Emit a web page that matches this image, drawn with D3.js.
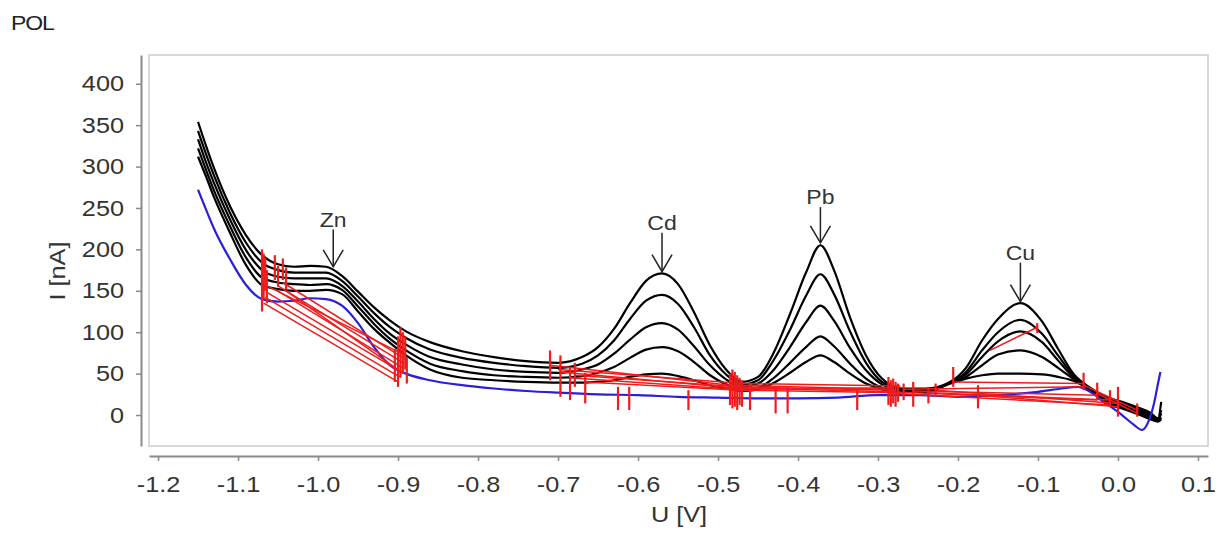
<!DOCTYPE html>
<html>
<head>
<meta charset="utf-8">
<script src="https://cdn.jsdelivr.net/npm/d3@7"></script>
<style>
  html, body { margin: 0; padding: 0; background: #fff; }
  svg { display: block; font-family: "Liberation Sans", Arial, sans-serif; }
</style>
</head>
<body>
<svg id="chart" width="1222" height="538"></svg>
<script>
// ---------------- data ----------------
const xTicks = [-1.2, -1.1, -1.0, -0.9, -0.8, -0.7, -0.6, -0.5, -0.4, -0.3, -0.2, -0.1, 0.0, 0.1];
const xTickLabels = ["-1.2", "-1.1", "-1.0", "-0.9", "-0.8", "-0.7", "-0.6", "-0.5", "-0.4", "-0.3", "-0.2", "-0.1", "0.0", "0.1"];
const yTicks = [0, 50, 100, 150, 200, 250, 300, 350, 400];

// potential grid of the measured scans [V]
const voltages = [-1.150,-1.140,-1.130,-1.110,-1.090,-1.070,-1.050,-1.030,-1.010,-0.990,
  -0.970,-0.950,-0.930,-0.910,-0.890,-0.860,-0.820,-0.780,-0.740,-0.700,
  -0.670,-0.650,-0.630,-0.610,-0.590,-0.570,-0.550,-0.530,-0.510,-0.490,
  -0.470,-0.450,-0.430,-0.410,-0.390,-0.372,-0.355,-0.335,-0.315,-0.295,
  -0.270,-0.240,-0.210,-0.190,-0.170,-0.150,-0.122,-0.095,-0.075,-0.055,
  -0.035,-0.015,0.005,0.025,0.040,0.050,0.054];

// currents [nA] of the black scans (standard additions), highest first
const scan5 = [354,325,298,252,217,193,182,179,180,179,168,149,130,114,101,88,77,70,65,63,
  70,82,104,135,162,171,158,124,84,55,40,46,76,122,172,205,175,118,72,44,
  32,32,40,57,90,116,135,113,80,49,33,22,16,9,3,-4,16];
const scan4 = [343,315,289,244,208,184,175,172,172,172,162,143,123,106,93,79,69,63,59,57,
  62,72,90,116,138,145,134,106,72,49,37,42,67,103,144,170,146,101,63,40,
  31,31,39,52,78,100,115,98,72,47,32,20,14,7,1,-5,6];
const scan3 = [333,305,280,236,199,175,167,165,165,165,156,137,116,98,85,70,61,55,52,51,
  55,61,74,91,106,111,103,83,60,43,34,38,55,82,112,132,114,81,54,37,
  30,30,39,49,70,89,101,88,66,45,31,18,12,5,-1,-6,2];
const scan2 = [322,296,271,228,190,166,160,158,157,158,151,131,110,92,78,62,53,48,46,45,
  47,51,58,69,79,82,77,64,48,37,31,33,45,63,82,95,83,62,44,33,
  29,29,38,46,60,73,78,70,57,43,30,16,10,3,-3,-7,-3];
const scan1 = [312,288,263,220,181,157,152,150,150,151,146,125,104,87,72,55,45,42,40,39,
  39,40,42,46,49,50,47,42,36,32,29,31,39,51,64,72,64,50,38,31,
  28,28,38,44,48,50,50,49,46,41,30,14,8,1,-5,-8,-5];

// blank (blue) scan
const blankV = [-1.150,-1.140,-1.130,-1.110,-1.090,-1.070,-1.050,-1.030,-1.010,-0.990,-0.970,-0.950,
  -0.930,-0.910,-0.890,-0.860,-0.820,-0.780,-0.740,-0.700,-0.650,-0.600,-0.550,-0.500,-0.450,-0.400,
  -0.350,-0.300,-0.250,-0.200,-0.150,-0.100,-0.070,-0.050,-0.035,-0.015,0.005,0.020,0.030,0.038,
  0.045,0.050,0.053];
const blankI = [272,248,225,188,157,140,137,138,141,140,132,111,
  82,60,50,42,36,32,29,27,25,24,22,21,20,20,
  21,24,24,22,24,28,32,34,28,14,0,-12,-18,-8,
  14,38,52];

// red evaluation marks: potential, lower and upper current
const markV  = [-1.070,-1.068,-1.066,-1.064,-1.054,-1.050,-1.044,-1.040,-0.904,-0.900,-0.897,-0.894,-0.891,-0.889,
  -0.710,-0.697,-0.685,-0.679,-0.666,-0.625,-0.611,-0.537,-0.485,-0.482,-0.479,-0.476,-0.473,-0.470,-0.460,
  -0.428,-0.413,-0.326,-0.287,-0.284,-0.281,-0.278,-0.275,-0.268,-0.256,-0.237,-0.228,-0.206,-0.175,-0.101,
  -0.043,-0.026,-0.010,0.000,0.024];
const markLo = [125,140,150,135,163,155,163,152,40,34,45,50,55,38,
  42,22,18,34,14,6,6,6,12,8,10,6,12,10,6,
  2,2,6,12,10,14,10,16,18,10,14,22,34,8,99,
  30,18,10,-2,-2];
const markHi = [200,195,190,175,193,180,189,178,80,95,106,100,95,70,
  78,72,58,63,51,34,34,30,50,55,52,48,45,42,39,
  34,34,30,46,42,44,40,38,38,40,34,38,58,36,111,
  51,39,30,34,14];

// red peak baselines: start potential/current, end potential/current
const baseV1 = [-1.068,-1.066,-1.064,-1.054,-1.050,-1.044,-1.040,-1.062,
  -0.710,-0.697,-0.685,-0.679,-0.666,-0.700,
  -0.485,-0.482,-0.479,-0.476,-0.473,-0.470,
  -0.206,-0.268,-0.256,-0.237,-0.228,-0.287,-0.278,-0.175,-0.160,-0.043,-0.026];
const baseI1 = [135,142,148,152,156,160,150,155,
  60,52,45,48,40,55,
  36,33,31,34,30,38,
  40,31,29,27,30,28,26,24,78,36,26];
const baseV2 = [-0.900,-0.898,-0.896,-0.894,-0.892,-0.890,-0.893,-0.891,
  -0.485,-0.482,-0.479,-0.476,-0.473,-0.470,
  -0.287,-0.284,-0.281,-0.278,-0.275,-0.272,
  -0.043,-0.043,-0.026,-0.010,0.000,-0.026,-0.010,0.000,-0.101,0.024,0.024];
const baseI2 = [40,46,52,57,62,67,50,72,
  36,33,31,34,30,38,
  31,28,33,30,27,35,
  38,34,24,18,14,18,12,10,106,6,2];

// peak annotations
const peakNames = ["Zn", "Cd", "Pb", "Cu"];
const peakV     = [-0.981, -0.570, -0.372, -0.122];
const peakTipI  = [179, 173, 208, 137];
const peakTailI = [224, 220, 251, 184];

// ---------------- drawing ----------------
const svg = d3.select("#chart");
const frame = {left: 149, top: 55, right: 1208, bottom: 446};
const x = d3.scaleLinear().domain([-1.2113, 0.1125]).range([frame.left, frame.right]);
const y = d3.scaleLinear().domain([-37.4, 434.7]).range([frame.bottom, frame.top]);
const SX = 1.15; // horizontal stretch of the original lettering
const textColor = "#333";

svg.append("defs").append("clipPath").attr("id", "clip")
  .append("rect").attr("x", frame.left).attr("y", frame.top)
  .attr("width", frame.right - frame.left).attr("height", frame.bottom - frame.top);

// plot frame
svg.append("rect")
  .attr("x", frame.left).attr("y", frame.top)
  .attr("width", frame.right - frame.left).attr("height", frame.bottom - frame.top)
  .attr("fill", "none").attr("stroke", "#cdcdcd").attr("stroke-width", 1.5);

// y axis (offset to the left)
const yAxis = svg.append("g").attr("transform", "translate(141,0)")
  .call(d3.axisLeft(y).tickValues(yTicks).tickSize(5).tickSizeOuter(0).tickPadding(12).tickFormat(d3.format("d")));
// x axis (offset below)
const xAxis = svg.append("g").attr("transform", "translate(0,456)")
  .call(d3.axisBottom(x).tickValues(xTicks).tickSize(5).tickSizeOuter(0).tickPadding(15)
    .tickFormat((d, i) => xTickLabels[i]));

[yAxis, xAxis].forEach(g => {
  g.select(".domain").attr("stroke", "#8a8a8a").attr("stroke-width", 2);
  g.selectAll(".tick line").attr("stroke", "#8a8a8a").attr("stroke-width", 1.5);
  g.selectAll(".tick text").attr("fill", textColor)
    .style("font-size", "22px").style("font-family", "'Liberation Sans', Arial, sans-serif");
});
yAxis.selectAll(".tick text").each(function() {
  const t = d3.select(this);
  t.attr("x", (+t.attr("x")) / SX).attr("transform", `scale(${SX},1)`);
});
xAxis.selectAll(".tick text").attr("transform", `scale(${SX},1)`);

function stretchedText(txt, px, py, size, anchor, rotate) {
  const g = svg.append("g").attr("transform", `translate(${px},${py})` + (rotate ? ` rotate(${rotate})` : "") + ` scale(${SX},1)`);
  g.append("text").text(txt).attr("text-anchor", anchor || "middle")
    .attr("fill", textColor).style("font-size", size + "px");
  return g;
}
stretchedText("POL", 11, 30, 20, "start").select("text").attr("letter-spacing", -1).attr("fill", "#222");
stretchedText("U [V]", 679, 522, 22, "middle");
stretchedText("I [nA]", 65, 271, 22, "middle", -90);

const plot = svg.append("g").attr("clip-path", "url(#clip)");

const line = d3.line().x(d => x(d[0])).y(d => y(d[1])).curve(d3.curveMonotoneX);

// black scans
[scan1, scan2, scan3, scan4, scan5].forEach(s => {
  plot.append("path").datum(voltages.map((v, i) => [v, s[i]]))
    .attr("d", line).attr("fill", "none").attr("stroke", "#000").attr("stroke-width", 2.2);
});
// blank scan
plot.append("path").datum(blankV.map((v, i) => [v, blankI[i]]))
  .attr("d", line).attr("fill", "none").attr("stroke", "#2a1fd8").attr("stroke-width", 2.2);

// red baselines
const red = "#f01c1c";
plot.selectAll("line.base").data(baseV1.map((v, i) => i)).enter().append("line")
  .attr("class", "base")
  .attr("x1", i => x(baseV1[i])).attr("y1", i => y(baseI1[i]))
  .attr("x2", i => x(baseV2[i])).attr("y2", i => y(baseI2[i]))
  .attr("stroke", red).attr("stroke-width", 1.5);
// red marks
plot.selectAll("line.mark").data(markV.map((v, i) => i)).enter().append("line")
  .attr("class", "mark")
  .attr("x1", i => x(markV[i])).attr("x2", i => x(markV[i]))
  .attr("y1", i => y(markLo[i])).attr("y2", i => y(markHi[i]))
  .attr("stroke", red).attr("stroke-width", 2.2);

// peak annotations
peakNames.forEach((name, i) => {
  const px = x(peakV[i]), tip = y(peakTipI[i]), tail = y(peakTailI[i]);
  const g = svg.append("g").attr("stroke", "#222").attr("stroke-width", 1.5).attr("fill", "none");
  g.append("line").attr("x1", px).attr("x2", px).attr("y1", tail).attr("y2", tip);
  g.append("polyline").attr("points", `${px - 10},${tip - 17} ${px},${tip} ${px + 10},${tip - 17}`);
  stretchedText(name, px, tail - 3, 20, "middle");
});
</script>
</body>
</html>
